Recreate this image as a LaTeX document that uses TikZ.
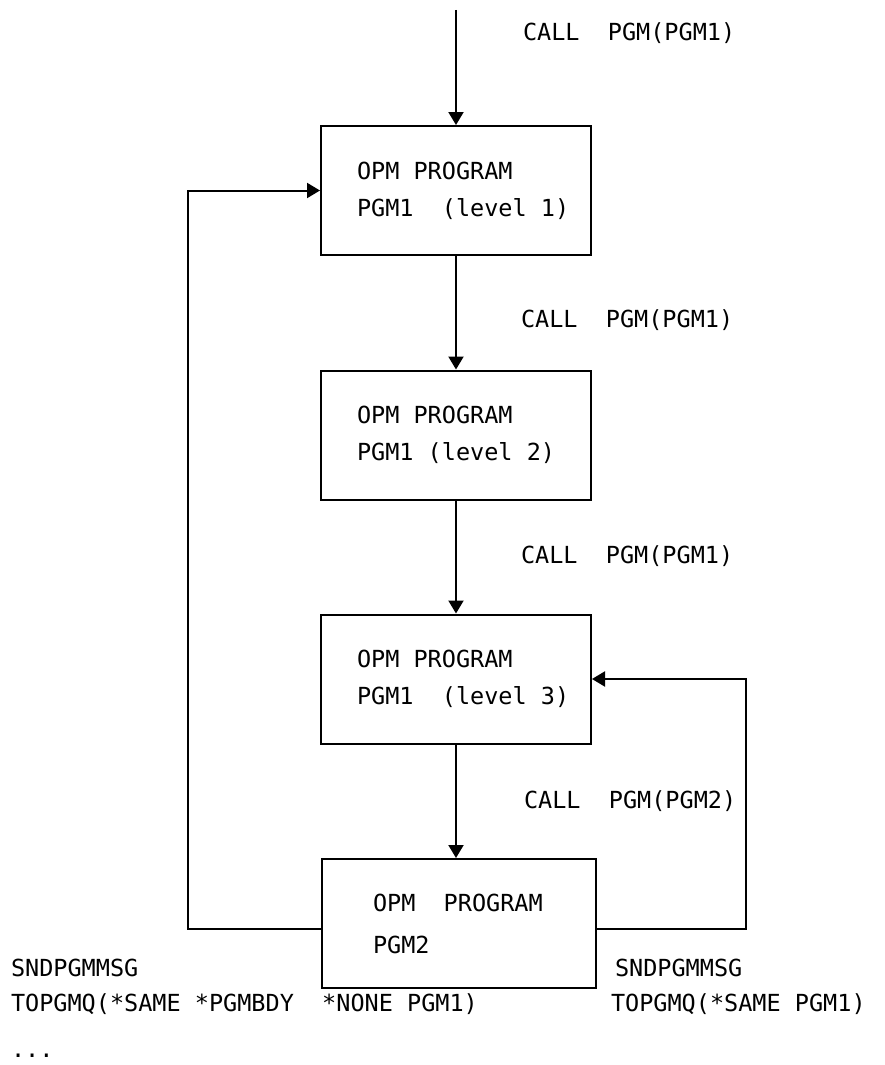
\documentclass[tikz,border=0pt]{standalone}
\usepackage{fontspec}
\setmonofont{DejaVu Sans Mono}
\usetikzlibrary{arrows.meta}
\begin{document}
\begin{tikzpicture}[x=1pt,y=-1pt,
  line width=2pt,
  prog/.style={draw, rectangle, minimum width=270pt, minimum height=129pt, inner sep=0pt},
  txt/.style={font=\ttfamily\fontsize{23.5}{37}\selectfont, inner sep=0pt, align=left, anchor=west},
  arr/.style={-{Triangle[width=15pt,length=13pt]}}]
\useasboundingbox (0,0) rectangle (885,1065);
\node[prog] (b1) at (456,190.5) {};
\node[prog] (b2) at (456,435) {};
\node[prog] (b3) at (456,679) {};
\node[prog, minimum width=274pt] (b4) at (459,923.5) {};
\node[txt] (t1) at ([xshift=36pt]b1.west) {OPM PROGRAM\\PGM1\ \ (level 1)};
\node[txt] (t2) at ([xshift=36pt]b2.west) {OPM PROGRAM\\PGM1 (level 2)};
\node[txt] (t3) at ([xshift=36pt]b3.west) {OPM PROGRAM\\PGM1\ \ (level 3)};
\node[txt, font=\ttfamily\fontsize{23.5}{42}\selectfont] (t4) at ([xshift=51pt]b4.west) {OPM\ \ PROGRAM\\PGM2};
\node[txt] (l1) at (522,33) {CALL\ \ PGM(PGM1)};
\node[txt] (l2) at (520,320) {CALL\ \ PGM(PGM1)};
\node[txt] (l3) at (520,556) {CALL\ \ PGM(PGM1)};
\node[txt] (l4) at (523,801) {CALL\ \ PGM(PGM2)};
\node[txt] (s1) at (10,968) {SNDPGMMSG};
\node[txt] (s2) at (10,1004) {TOPGMQ(*SAME *PGMBDY\ \ *NONE PGM1)};
\node[txt, anchor=base west] (s3) at (10,1057) {...};
\node[txt] (r1) at (614,968) {SNDPGMMSG};
\node[txt] (r2) at (610,1004) {TOPGMQ(*SAME PGM1)};
\coordinate (top) at (456,10);
\coordinate (cl) at (188,929);
\coordinate (cr) at (746,929);
\draw[arr] (top) -- (b1.north);
\draw[arr] (b1.south) -- (b2.north);
\draw[arr] (b2.south) -- (b3.north);
\draw[arr] (b3.south) -- (b3.south |- b4.north);
\draw[arr] (b4.west |- cl) -- (cl) |- (b1.west);
\draw[arr] (b4.east |- cr) -- (cr) |- (b3.east);
\end{tikzpicture}
\end{document}
